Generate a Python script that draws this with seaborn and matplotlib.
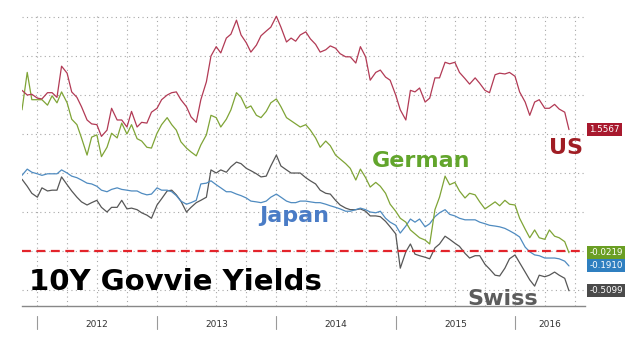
import numpy as np
import pandas as pd
import matplotlib
matplotlib.use("Agg")
import matplotlib.pyplot as plt
import matplotlib.dates as mdates
import matplotlib.transforms as mtrans
import seaborn as sns

# semi-monthly observation dates (1st and 15th), last print 14 Jun 2016
dates = list(pd.date_range("2011-11-15", "2016-06-01", freq="SMS")) + [pd.Timestamp("2016-06-14")]

us = [2.06, 2.00, 2.01, 1.96, 1.95, 2.03, 2.03, 1.97, 2.37, 2.28,
      2.04, 1.97, 1.85, 1.68, 1.63, 1.62, 1.47, 1.55, 1.83, 1.68,
      1.68, 1.59, 1.79, 1.59, 1.65, 1.64, 1.78, 1.83, 1.94, 2.00,
      2.03, 2.04, 1.94, 1.85, 1.72, 1.65, 1.94, 2.17, 2.50, 2.62,
      2.54, 2.73, 2.78, 2.96, 2.77, 2.67, 2.55, 2.64, 2.76, 2.82,
      2.87, 3.01, 2.87, 2.68, 2.73, 2.69, 2.77, 2.81, 2.72, 2.65,
      2.55, 2.58, 2.63, 2.60, 2.53, 2.49, 2.49, 2.41, 2.62, 2.49,
      2.19, 2.29, 2.32, 2.23, 2.19, 2.00, 1.81, 1.68, 2.06, 2.04,
      2.09, 1.91, 1.96, 2.22, 2.22, 2.42, 2.40, 2.42, 2.29, 2.21,
      2.14, 2.22, 2.15, 2.06, 2.03, 2.26, 2.28, 2.27, 2.29, 2.24,
      2.04, 1.91, 1.74, 1.91, 1.94, 1.83, 1.83, 1.88, 1.82, 1.78, 1.5567]

german = [1.81, 2.29, 1.94, 1.94, 1.94, 1.87, 1.99, 1.90, 2.04, 1.90,
          1.69, 1.62, 1.45, 1.23, 1.46, 1.49, 1.21, 1.33, 1.51, 1.45,
          1.64, 1.50, 1.62, 1.44, 1.41, 1.33, 1.32, 1.51, 1.62, 1.71,
          1.62, 1.55, 1.40, 1.32, 1.27, 1.22, 1.36, 1.49, 1.74, 1.71,
          1.59, 1.69, 1.81, 2.03, 1.97, 1.83, 1.86, 1.74, 1.71, 1.79,
          1.90, 1.95, 1.85, 1.71, 1.67, 1.63, 1.59, 1.62, 1.55, 1.45,
          1.33, 1.41, 1.35, 1.23, 1.18, 1.12, 1.06, 0.91, 1.05, 0.94,
          0.82, 0.88, 0.83, 0.74, 0.60, 0.51, 0.42, 0.37, 0.27, 0.22,
          0.17, 0.14, 0.09, 0.53, 0.69, 0.96, 0.85, 0.88, 0.77, 0.68,
          0.74, 0.72, 0.63, 0.54, 0.58, 0.63, 0.58, 0.65, 0.60, 0.59,
          0.42, 0.28, 0.17, 0.27, 0.17, 0.15, 0.27, 0.19, 0.17, 0.12, -0.0219]

japan = [0.97, 1.05, 1.01, 0.99, 0.97, 0.99, 0.99, 0.99, 1.04, 1.00,
         0.96, 0.94, 0.91, 0.87, 0.86, 0.83, 0.78, 0.76, 0.79, 0.81,
         0.79, 0.78, 0.77, 0.77, 0.74, 0.72, 0.73, 0.81, 0.78, 0.78,
         0.76, 0.71, 0.64, 0.60, 0.62, 0.65, 0.86, 0.87, 0.90, 0.85,
         0.81, 0.76, 0.76, 0.73, 0.71, 0.68, 0.64, 0.63, 0.62, 0.64,
         0.69, 0.73, 0.69, 0.64, 0.62, 0.62, 0.64, 0.64, 0.63, 0.62,
         0.62, 0.60, 0.58, 0.56, 0.54, 0.51, 0.51, 0.53, 0.55, 0.53,
         0.50, 0.49, 0.51, 0.42, 0.37, 0.33, 0.23, 0.32, 0.41, 0.37,
         0.41, 0.31, 0.35, 0.44, 0.49, 0.53, 0.47, 0.45, 0.42, 0.40,
         0.40, 0.40, 0.37, 0.35, 0.33, 0.32, 0.31, 0.29, 0.26, 0.22,
         0.18, 0.05, -0.01, -0.05, -0.06, -0.09, -0.09, -0.09, -0.10, -0.13, -0.1910]

swiss = [0.92, 0.83, 0.74, 0.69, 0.81, 0.77, 0.78, 0.78, 0.95, 0.85,
         0.77, 0.69, 0.63, 0.59, 0.62, 0.65, 0.56, 0.50, 0.56, 0.56,
         0.65, 0.54, 0.55, 0.53, 0.49, 0.46, 0.42, 0.59, 0.67, 0.77,
         0.78, 0.72, 0.64, 0.50, 0.56, 0.62, 0.65, 0.69, 1.04, 1.00,
         1.04, 1.01, 1.08, 1.14, 1.12, 1.06, 1.03, 0.99, 0.95, 0.96,
         1.09, 1.23, 1.09, 1.04, 1.00, 1.00, 1.00, 0.94, 0.90, 0.86,
         0.78, 0.74, 0.73, 0.65, 0.59, 0.55, 0.53, 0.53, 0.54, 0.51,
         0.45, 0.45, 0.44, 0.38, 0.31, 0.22, -0.22, -0.01, 0.09, -0.04,
         -0.06, -0.08, -0.10, 0.04, 0.09, 0.19, 0.15, 0.10, 0.06, -0.03,
         -0.09, -0.06, -0.06, -0.17, -0.23, -0.31, -0.32, -0.22, -0.10, -0.05,
         -0.15, -0.27, -0.37, -0.45, -0.31, -0.33, -0.31, -0.27, -0.31, -0.35, -0.5099]

series_names = ["US", "German", "Japan", "Swiss"]
line_colors = {"US": "#b23a55", "German": "#7fa436", "Japan": "#4f8bc0", "Swiss": "#575757"}
box_colors = {"US": "#a8192e", "German": "#6a9e23", "Japan": "#2f7fc0", "Swiss": "#4a4a4a"}
text_colors = {"US": "#a01d24", "German": "#62a52c", "Japan": "#4a7cc6", "Swiss": "#5c5c5c"}

values = {"US": us, "German": german, "Japan": japan, "Swiss": swiss}
df = pd.concat([pd.DataFrame({"date": dates, "yield": values[n], "country": n}) for n in series_names],
               ignore_index=True)

sns.set_theme(style="white")
plt.rcParams["font.family"] = ["DejaVu Sans"]

W, H = 637, 347
fig = plt.figure(figsize=(W / 100, H / 100), dpi=100)
ax = fig.add_axes([22 / W, 1 - 306 / H, (585 - 22) / W, (306 - 15) / H])

sns.lineplot(data=df, x="date", y="yield", hue="country", palette=line_colors,
             hue_order=["Swiss", "Japan", "German", "US"], linewidth=0.9, legend=False, ax=ax)

xmin = pd.Timestamp("2011-11-15")
xmax = pd.Timestamp("2016-08-02")
ax.set_xlim(xmin, xmax)
ax.set_ylim(-0.705, 3.026)

# grid
ax.yaxis.set_major_locator(matplotlib.ticker.MultipleLocator(0.5))
ax.xaxis.set_major_locator(mdates.MonthLocator(bymonth=[1, 4, 7, 10]))
ax.xaxis.set_minor_locator(mdates.MonthLocator())
ax.grid(True, which="major", color="#a8a8a8", linestyle=(0, (1, 3)), linewidth=0.8)
ax.set_axisbelow(True)
ax.tick_params(axis="y", left=False, labelleft=False)
ax.tick_params(axis="x", which="both", direction="out", length=3, width=0.7,
               color="#777777", labelbottom=False)
for s in ["left", "right", "top"]:
    ax.spines[s].set_visible(False)
ax.spines["bottom"].set_color("#888888")
ax.spines["bottom"].set_linewidth(1.0)
ax.set_xlabel("")
ax.set_ylabel("")

# zero line
ax.axhline(0, color="#e3242b", linestyle=(0, (4, 2.5)), linewidth=1.6, zorder=3)

# year separators and labels
trans = mtrans.blended_transform_factory(ax.transData, ax.transAxes)
for yr in range(2012, 2017):
    start = pd.Timestamp(f"{yr}-01-01")
    end = pd.Timestamp(f"{yr + 1}-01-01")
    ax.plot([start, start], [-0.034, -0.080], transform=trans, color="#9a9a9a",
            linewidth=0.8, clip_on=False)
    lo = max(start, xmin)
    hi = min(end, xmax)
    mid = lo + (hi - lo) / 2
    ax.text(mid, -0.062, str(yr), transform=trans, ha="center", va="center",
            fontsize=6.5, color="#333333")

# right-side last value boxes
btrans = mtrans.blended_transform_factory(ax.transAxes, ax.transData)
for n in series_names:
    v = values[n][-1]
    ax.annotate(f"{v:.4f}", xy=(1.0, v), xycoords=btrans, xytext=(3, 0),
                textcoords="offset points", ha="left", va="center", fontsize=6.3,
                color="white", annotation_clip=False,
                bbox=dict(boxstyle="square,pad=0.22", fc=box_colors[n], ec="none"))

# series name labels
ax.text(pd.Timestamp("2016-06-05"), 1.32, "US", color=text_colors["US"], fontsize=16,
        fontweight="bold", ha="center", va="center")
ax.text(pd.Timestamp("2015-03-20"), 1.16, "German", color=text_colors["German"], fontsize=16,
        fontweight="bold", ha="center", va="center")
ax.text(pd.Timestamp("2014-02-25"), 0.45, "Japan", color=text_colors["Japan"], fontsize=16,
        fontweight="bold", ha="center", va="center")
ax.text(pd.Timestamp("2015-11-25"), -0.62, "Swiss", color=text_colors["Swiss"], fontsize=16,
        fontweight="bold", ha="center", va="center", zorder=6)
ax.text(0.012, -0.40, "10Y Govvie Yields", transform=mtrans.blended_transform_factory(ax.transAxes, ax.transData),
        color="black", fontsize=21, fontweight="bold", ha="left", va="center", zorder=6)

fig.savefig("out.png", dpi=100, facecolor="white")
